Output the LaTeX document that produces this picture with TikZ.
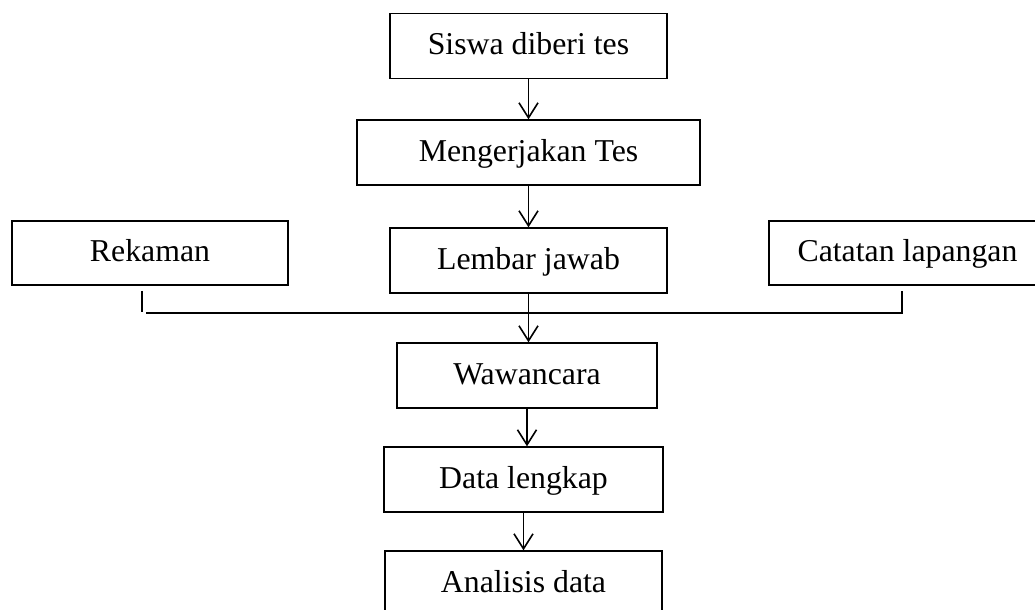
\documentclass[tikz,border=0pt]{standalone}
\usepackage{fontspec}
\setmainfont{Liberation Serif}
\usetikzlibrary{arrows.meta}

\tikzset{
  kotak/.style={draw, line width=0.7pt, minimum height=32.5pt, inner sep=0pt,
    text height=11.5pt, text depth=2.5pt, font=\fontsize{15.9}{19}\selectfont},
  panah/.style={line width=0.8pt, -{Straight Barb[length=7.5pt,width=9.5pt]}},
  garis/.style={line width=1.1pt},
}

\begin{document}
\begin{tikzpicture}[x=0.5pt,y=-0.5pt]
  \useasboundingbox (0,0) rectangle (1035,610);
  \clip (0,0) rectangle (1035,610);
  \node[kotak, minimum width=138.5pt] (siswa) at (528.5,46) {Siswa diberi tes};
  \node[kotak, minimum width=171.5pt] (kerja) at (528.5,152.5) {Mengerjakan Tes};
  \node[kotak, minimum width=138.5pt] (lembar) at (528.5,260.5) {Lembar jawab};
  \node[kotak, minimum width=138pt, minimum height=32pt] (rekaman) at (150,253) {Rekaman};
  \node[kotak, minimum width=138.5pt, minimum height=32pt] (catatan) at (907.5,253) {Catatan lapangan};
  \node[kotak, minimum width=130pt] (wawancara) at (527,375.5) {Wawancara};
  \node[kotak, minimum width=139.5pt] (data) at (523.5,479.5) {Data lengkap};
  \node[kotak, minimum width=138.5pt] (analisis) at (523.5,583.5) {Analisis data};
  % garis gabungan
  \coordinate (tkiri) at (142,291);
  \coordinate (bkiri) at (142,312);
  \coordinate (gkiri) at (146,313);
  \coordinate (gkanan) at (902,313);
  \coordinate (tkanan) at (902,291);
  \draw[garis] (tkiri) -- (bkiri);
  \draw[garis] (gkiri) -- (gkanan) -- (tkanan);
  % panah
  \draw[panah] (siswa) -- (kerja);
  \draw[panah] (kerja) -- (lembar);
  \draw[panah] (lembar.south) -- (lembar.south |- wawancara.north);
  \draw[panah] (wawancara.south) -- (wawancara.south |- data.north);
  \draw[panah] (data) -- (analisis);
\end{tikzpicture}
\end{document}
